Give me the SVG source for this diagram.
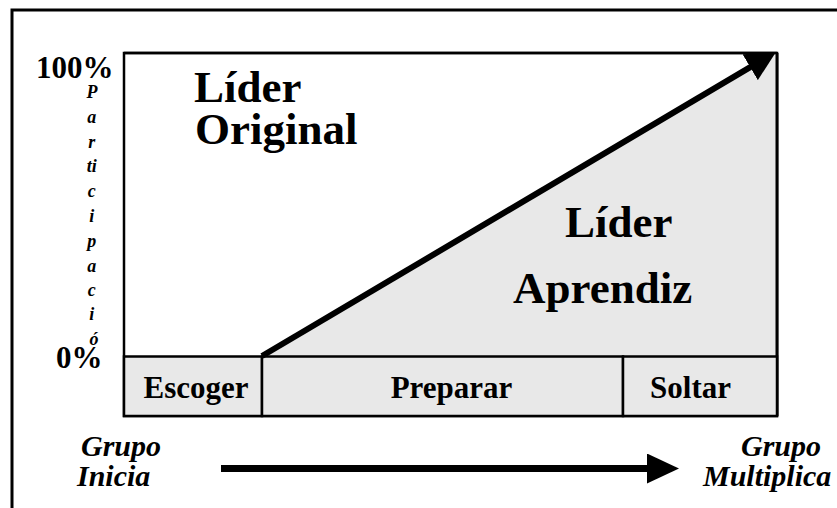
<svg xmlns="http://www.w3.org/2000/svg" width="837" height="508" viewBox="0 0 837 508">
  <style>
    .b { font-family: "Liberation Serif", "Times New Roman", serif; font-weight: bold; fill: #000; }
    .bi { font-family: "Liberation Serif", "Times New Roman", serif; font-weight: bold; font-style: italic; fill: #000; }
    .big { font-size: 45px; }
    .pct { font-size: 31px; }
    .phase { font-size: 31px; text-anchor: middle; }
    .grp { font-size: 30px; }
    .vert { font-size: 18px; text-anchor: middle; }
    .edge { fill: none; stroke: #000; }
    .cell { fill: #e8e8e8; stroke: #000; stroke-width: 2.5; }
  </style>
  <defs>
    <marker id="head" viewBox="0 0 30 30" refX="5" refY="15" markerWidth="30" markerHeight="30" markerUnits="userSpaceOnUse" orient="auto">
      <path d="M0,0 L30,15 L0,30 Z" fill="#000"/>
    </marker>
    <marker id="head2" viewBox="0 0 32 30" refX="0" refY="15" markerWidth="32" markerHeight="30" markerUnits="userSpaceOnUse" orient="auto">
      <path d="M0,0 L32,15 L0,30 Z" fill="#000"/>
    </marker>
  </defs>
  <rect width="837" height="508" fill="#fff"/>

  <g id="frame">
    <path class="edge" d="M12,508 L12,10 L837,10" stroke-width="3"/>
  </g>

  <g id="chart">
    <rect x="124" y="53" width="653" height="363" fill="#fff" stroke="#000" stroke-width="2.5"/>
    <polygon points="262,356.5 777,53 777,356.5" fill="#e8e8e8"/>
    <line x1="777" y1="53" x2="777" y2="416" stroke="#000" stroke-width="3"/>
    <line x1="124" y1="53" x2="777" y2="53" stroke="#000" stroke-width="2.5"/>
  </g>

  <g id="phase-escoger">
    <rect class="cell" x="124" y="356.5" width="138" height="59.5"/>
    <text class="b phase" x="196" y="397.5">Escoger</text>
  </g>
  <g id="phase-preparar">
    <rect class="cell" x="262" y="356.5" width="361" height="59.5"/>
    <text class="b phase" x="451.5" y="398">Preparar</text>
  </g>
  <g id="phase-soltar">
    <rect class="cell" x="623" y="356.5" width="154" height="59.5"/>
    <text class="b phase" x="690.5" y="398">Soltar</text>
  </g>

  <g id="connectors">
    <line x1="262" y1="356" x2="754.5" y2="64.7" stroke="#000" stroke-width="6" marker-end="url(#head)"/>
    <line x1="221" y1="468.5" x2="647" y2="468.5" stroke="#000" stroke-width="7" marker-end="url(#head2)"/>
  </g>

  <g id="lider-original">
    <text class="b big" x="194" y="102">Líder</text>
    <text class="b big" x="195" y="144">Original</text>
  </g>
  <g id="lider-aprendiz">
    <text class="b big" x="565" y="237">Líder</text>
    <text class="b big" x="513" y="303">Aprendiz</text>
  </g>

  <g id="axis-y">
    <text class="b pct" x="36" y="78">100%</text>
    <text class="b pct" x="56" y="368">0%</text>
    <text class="bi vert">
      <tspan x="94" y="98">P</tspan>
      <tspan x="94" y="123">a</tspan>
      <tspan x="94" y="148">r</tspan>
      <tspan x="94" y="172">ti</tspan>
      <tspan x="94" y="197">c</tspan>
      <tspan x="94" y="222">i</tspan>
      <tspan x="94" y="247">p</tspan>
      <tspan x="94" y="272">a</tspan>
      <tspan x="94" y="296">c</tspan>
      <tspan x="94" y="320">i</tspan>
      <tspan x="94" y="345">ó</tspan>
    </text>
  </g>

  <g id="grupo-inicia">
    <text class="bi grp" x="81" y="456">Grupo</text>
    <text class="bi grp" x="77" y="486">Inicia</text>
  </g>
  <g id="grupo-multiplica">
    <text class="bi grp" x="741" y="456">Grupo</text>
    <text class="bi grp" x="703" y="486">Multiplica</text>
  </g>
</svg>
